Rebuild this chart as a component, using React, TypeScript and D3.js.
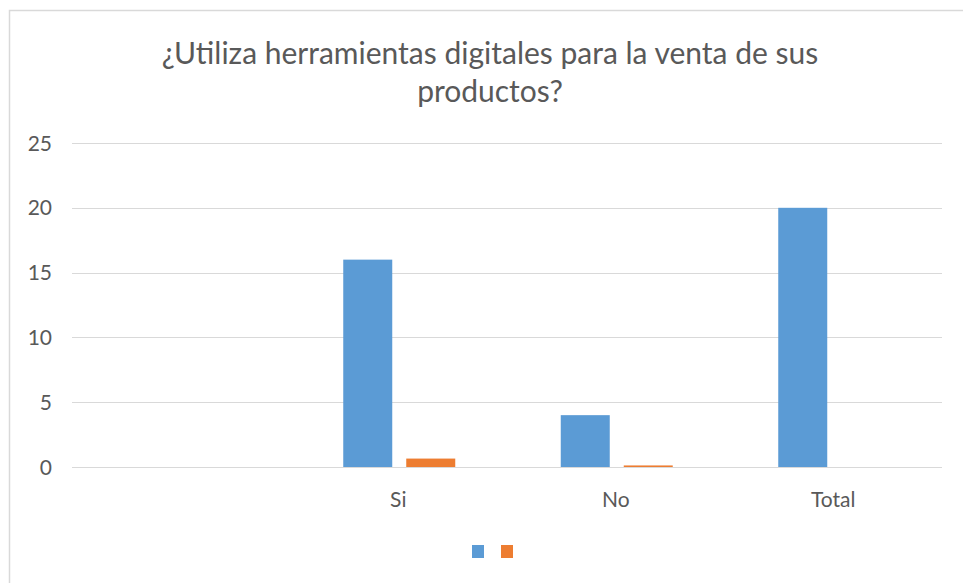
import React from "react";
import * as d3 from "d3";

const categories = ["", "Si", "No", "Total"];
const seriesA = [0, 16, 4, 20];
const seriesB = [0, 0.65, 0.12, 0];
const yTicks = [0, 5, 10, 15, 20, 25];
const titleLines = ["¿Utiliza herramientas digitales para la venta de sus", "productos?"];
const colors = ["#5B9BD5", "#ED7D31"];

export default function App() {
  const W = 963, H = 583;
  const left = 72, right = 942, top = 143, bottom = 467;
  const x = d3.scaleBand<string>().domain(categories).range([left, right]).paddingInner(0).paddingOuter(0);
  const y = d3.scaleLinear().domain([0, 25]).range([bottom, top]);
  const barW = 49, gap = 14;
  const groupW = barW * 2 + gap;
  const font = "Lato, sans-serif";
  return (
    <svg width={W} height={H} style={{ position: "fixed", left: 0, top: 0, background: "#fff" }}>
      <rect x={9.5} y={10.5} width={W + 20} height={H + 20} fill="#fff" stroke="#d9d9d9" strokeWidth={1.5} />
      {titleLines.map((t, i) => (
        <text key={i} x={490} y={64 + i * 38} textAnchor="middle" fontFamily={font} fontSize={30} fill="#595959">{t}</text>
      ))}
      {yTicks.map(t => (
        <g key={t}>
          <line x1={left} x2={right} y1={Math.round(y(t)) + 0.5} y2={Math.round(y(t)) + 0.5} stroke="#d9d9d9" strokeWidth={1} />
          <text x={52} y={y(t) + 7.5} textAnchor="end" fontFamily={font} fontSize={21} fill="#595959">{t}</text>
        </g>
      ))}
      {categories.map((c, i) => {
        const x0 = (x(c) as number) + (x.bandwidth() - groupW) / 2;
        return (
          <g key={i}>
            <rect x={x0 + 1} y={y(seriesA[i])} width={barW} height={bottom - y(seriesA[i])} fill={colors[0]} />
            <rect x={x0 + 1 + barW + gap} y={y(seriesB[i])} width={barW} height={bottom - y(seriesB[i])} fill={colors[1]} />
            <text x={(x(c) as number) + x.bandwidth() / 2} y={507} textAnchor="middle" fontFamily={font} fontSize={21} fill="#595959">{c}</text>
          </g>
        );
      })}
      <rect x={472} y={545} width={12} height={13} fill={colors[0]} />
      <rect x={501} y={545} width={12} height={13} fill={colors[1]} />
    </svg>
  );
}
